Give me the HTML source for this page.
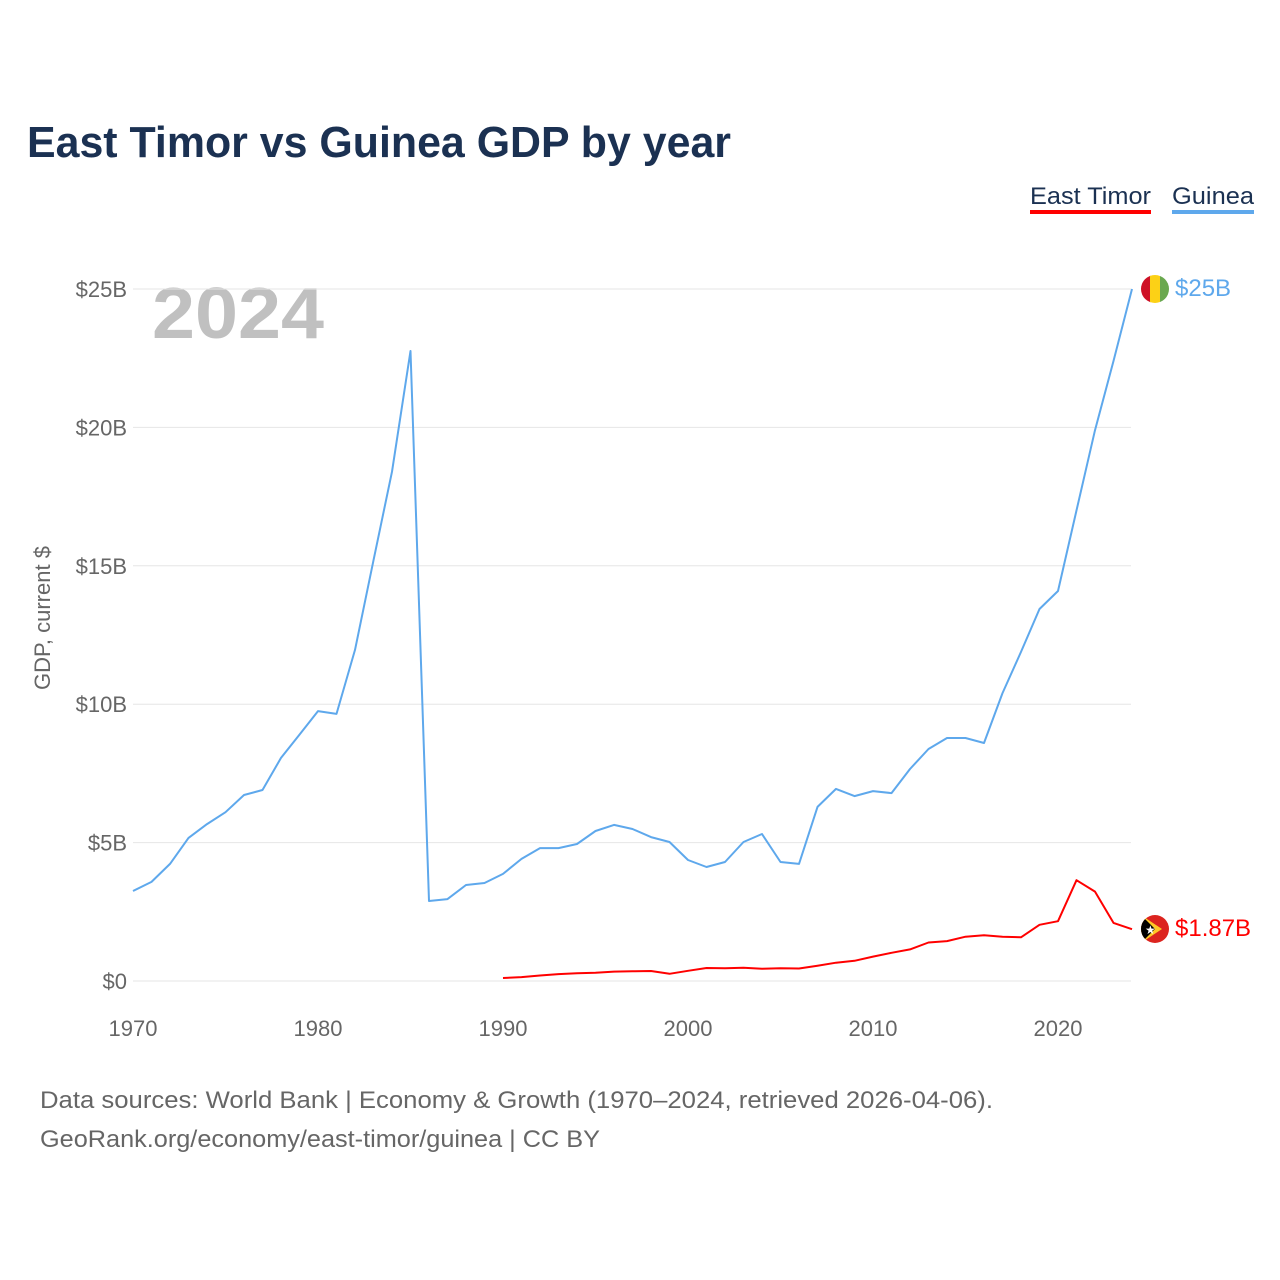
<!DOCTYPE html>
<html><head><meta charset="utf-8">
<style>
body{margin:0;background:#fff;font-family:"Liberation Sans",sans-serif;}
svg{display:block}
</style></head>
<body>
<svg id="chart" width="1280" height="1280" viewBox="0 0 1280 1280">
<rect width="1280" height="1280" fill="#fff"/>
<text x="27" y="157" font-size="44" font-weight="bold" fill="#1b3152" textLength="704" lengthAdjust="spacingAndGlyphs">East Timor vs Guinea GDP by year</text>
<g>
<text x="1030" y="204" font-size="24" fill="#1b3152" textLength="121" lengthAdjust="spacingAndGlyphs">East Timor</text>
<rect x="1030" y="210" width="121" height="4" fill="#ff0000"/>
<text x="1172" y="204" font-size="24" fill="#1b3152" textLength="82" lengthAdjust="spacingAndGlyphs">Guinea</text>
<rect x="1172" y="210" width="82" height="4" fill="#5ea8ec"/>
</g>
<text x="152" y="338" font-size="72" font-weight="bold" fill="#c0c0c0" textLength="172" lengthAdjust="spacingAndGlyphs">2024</text>
<text transform="translate(50,618) rotate(-90)" text-anchor="middle" font-size="22" fill="#666">GDP, current $</text>
<g id="grid"></g><g id="yticks"></g><g id="xticks"></g><g id="series"></g>
<g>
<clipPath id="cg"><circle cx="1155" cy="289" r="14"/></clipPath>
<g clip-path="url(#cg)"><rect x="1141" y="275" width="10" height="28" fill="#ce1126"/><rect x="1150" y="275" width="10" height="28" fill="#fcd116"/><rect x="1160" y="275" width="10" height="28" fill="#6aa84f"/></g>
</g>
<g>
<clipPath id="ct"><circle cx="1155" cy="929" r="14"/></clipPath>
<g clip-path="url(#ct)"><rect x="1141" y="915" width="28" height="28" fill="#dc241f"/><polygon points="1141,915 1162,929 1141,943" fill="#ffc726"/><polygon points="1141,915 1155,929 1141,943" fill="#000"/><text x="1145" y="934" font-size="12" fill="#fff">★</text></g>
</g>
<text x="1175" y="296" font-size="24" fill="#5ea8ec">$25B</text>
<text x="1175" y="936" font-size="24" fill="#ff0000">$1.87B</text>
<text x="40" y="1108" font-size="24" fill="#666" textLength="953" lengthAdjust="spacingAndGlyphs">Data sources: World Bank | Economy &amp; Growth (1970–2024, retrieved 2026-04-06).</text>
<text x="40" y="1147" font-size="24" fill="#666" textLength="560" lengthAdjust="spacingAndGlyphs">GeoRank.org/economy/east-timor/guinea | CC BY</text>
</svg>
<script>
const yTicks=[0,5,10,15,20,25];
const yTickLabels=["$0","$5B","$10B","$15B","$20B","$25B"];
const xTicks=[1970,1980,1990,2000,2010,2020];
const guineaYears=[1970,1971,1972,1973,1974,1975,1976,1977,1978,1979,1980,1981,1982,1983,1984,1985,1986,1987,1988,1989,1990,1991,1992,1993,1994,1995,1996,1997,1998,1999,2000,2001,2002,2003,2004,2005,2006,2007,2008,2009,2010,2011,2012,2013,2014,2015,2016,2017,2018,2019,2020,2021,2022,2023,2024];
const guineaGdp=[3.25,3.58,4.23,5.17,5.67,6.1,6.72,6.9,8.06,8.9,9.75,9.65,11.96,15.2,18.4,22.76,2.89,2.96,3.47,3.54,3.87,4.41,4.8,4.8,4.95,5.42,5.64,5.49,5.2,5.02,4.37,4.12,4.3,5.02,5.31,4.3,4.23,6.29,6.94,6.68,6.86,6.79,7.66,8.38,8.78,8.78,8.6,10.4,11.89,13.44,14.09,17.0,19.9,22.4,25.0];
const timorYears=[1990,1991,1992,1993,1994,1995,1996,1997,1998,1999,2000,2001,2002,2003,2004,2005,2006,2007,2008,2009,2010,2011,2012,2013,2014,2015,2016,2017,2018,2019,2020,2021,2022,2023,2024];
const timorGdp=[0.11,0.14,0.2,0.25,0.28,0.3,0.34,0.35,0.36,0.26,0.37,0.47,0.46,0.48,0.44,0.46,0.45,0.55,0.66,0.73,0.88,1.02,1.14,1.39,1.44,1.6,1.65,1.6,1.58,2.03,2.16,3.64,3.23,2.1,1.87];

const NS="http://www.w3.org/2000/svg";
const xs=y=>133+(y-1970)*18.5;
const ys=v=>981-v*27.68;
function mk(tag,attrs,parent){const e=document.createElementNS(NS,tag);for(const k in attrs)e.setAttribute(k,attrs[k]);parent.appendChild(e);return e;}
const grid=document.getElementById('grid'),yt=document.getElementById('yticks'),xt=document.getElementById('xticks'),ser=document.getElementById('series');
yTicks.forEach((v,i)=>{
  const l=mk('line',{x1:133,x2:1131,y1:ys(v),y2:ys(v),stroke:'#e6e6e6','stroke-width':1},grid);
  
  
  const t=mk('text',{x:127,y:ys(v)+8,'text-anchor':'end','font-size':22,fill:'#666'},yt);
  t.textContent=yTickLabels[i];
  
  
});
xTicks.forEach(y=>{
  const t=mk('text',{x:xs(y),y:1036,'text-anchor':'middle','font-size':22,fill:'#666'},xt);
  t.textContent=y;
  
  
});
function line(years,vals,color,name){
  const d=years.map((y,i)=>(i?'L':'M')+xs(y).toFixed(1)+','+ys(vals[i]).toFixed(1)).join('');
  const p=mk('path',{d:d,fill:'none',stroke:color,'stroke-width':2,'stroke-linejoin':'round'},ser);
  
  
}
line(guineaYears,guineaGdp,'#5ea8ec','guinea-line');
line(timorYears,timorGdp,'#ff0000','east-timor-line');
</script>
</body></html>
